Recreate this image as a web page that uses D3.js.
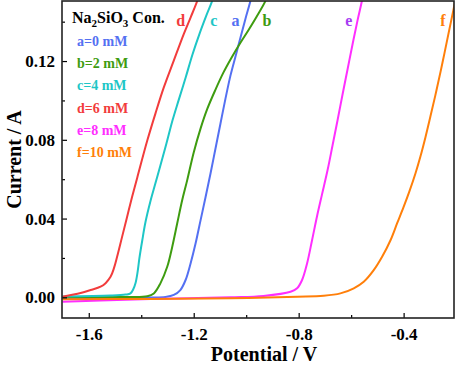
<!DOCTYPE html>
<html>
<head>
<meta charset="utf-8">
<script src="https://cdn.jsdelivr.net/npm/d3@7"></script>
<style>
    body { margin: 0; background: #fff; }
    .font { font-family: "Liberation Serif", "Times New Roman", serif; font-weight: bold; }
    .tick-label { font-size: 17px; }
    .axis-title { font-size: 20px; }
    .legend-head { font-size: 16px; }
    .legend { font-size: 14px; }
    .curve-label { font-size: 16px; }
    .line { fill: none; stroke-width: 2; stroke-linejoin: round; }
</style>
</head>
<body>
<svg id="chart" width="457" height="366"></svg>
<script>
const SVG_WIDTH = 457;
const SVG_HEIGHT = 366;
const PLOT_LEFT = 62;
const PLOT_RIGHT = 454;
const PLOT_TOP = 1;
const PLOT_BOTTOM = 318;

const X_DOMAIN = [-1.702, -0.208];
const Y_DOMAIN = [-0.0105, 0.1505];
const X_MAJOR_TICKS = [-1.6, -1.2, -0.8, -0.4];
const X_MINOR_TICKS = [-1.4, -1.0, -0.6];
const Y_MAJOR_TICKS = [0.00, 0.04, 0.08, 0.12];
const Y_MINOR_TICKS = [0.02, 0.06, 0.10, 0.14];

// polarisation curves (V, A)
var potA = [-1.70, -1.365, -1.308, -1.276, -1.251, -1.231, -1.212, -1.193, -1.174, -1.155, -1.136, -1.117, -1.098, -1.079, -1.060, -1.041, -1.022, -1.003, -0.984, -0.982];
var curA = [-0.0005, -0.0001, 0.0002, 0.0012, 0.0037, 0.0088, 0.0172, 0.0273, 0.0391, 0.0508, 0.0629, 0.0756, 0.0883, 0.1009, 0.1126, 0.1222, 0.1318, 0.1414, 0.1505, 0.1520];
var potB = [-1.70, -1.479, -1.377, -1.352, -1.327, -1.301, -1.282, -1.263, -1.244, -1.225, -1.200, -1.174, -1.148, -1.117, -1.087, -1.056, -1.022, -0.991, -0.961, -0.927, -0.925];
var curB = [0.0000, 0.0002, 0.0005, 0.0020, 0.0071, 0.0155, 0.0256, 0.0375, 0.0493, 0.0594, 0.0736, 0.0857, 0.0958, 0.1055, 0.1141, 0.1217, 0.1293, 0.1358, 0.1424, 0.1505, 0.1520];
var potC = [-1.70, -1.517, -1.460, -1.441, -1.430, -1.422, -1.414, -1.407, -1.396, -1.384, -1.365, -1.346, -1.327, -1.304, -1.281, -1.258, -1.231, -1.205, -1.178, -1.151, -1.130, -1.128];
var curC = [0.0004, 0.0009, 0.0014, 0.0020, 0.0042, 0.0071, 0.0128, 0.0199, 0.0290, 0.0381, 0.0488, 0.0579, 0.0670, 0.0781, 0.0898, 0.0999, 0.1115, 0.1232, 0.1338, 0.1434, 0.1505, 0.1520];
var potD = [-1.70, -1.631, -1.593, -1.555, -1.536, -1.517, -1.504, -1.492, -1.473, -1.454, -1.435, -1.415, -1.377, -1.346, -1.314, -1.276, -1.238, -1.212, -1.187, -1.185];
var curD = [0.0003, 0.0022, 0.0037, 0.0054, 0.0072, 0.0104, 0.0148, 0.0206, 0.0307, 0.0408, 0.0509, 0.0609, 0.0796, 0.0933, 0.1066, 0.1202, 0.1337, 0.1421, 0.1505, 0.1520];
var potE = [-1.70, -1.555, -1.365, -1.060, -0.934, -0.831, -0.806, -0.787, -0.768, -0.749, -0.730, -0.711, -0.690, -0.671, -0.652, -0.633, -0.614, -0.595, -0.576, -0.559, -0.557];
var curE = [-0.0022, -0.0016, -0.0009, 0.0000, 0.0007, 0.0028, 0.0046, 0.0088, 0.0172, 0.0290, 0.0412, 0.0523, 0.0645, 0.0771, 0.0898, 0.1029, 0.1156, 0.1283, 0.1404, 0.1505, 0.1520];
var potF = [-1.70, -1.365, -1.060, -0.806, -0.705, -0.641, -0.590, -0.552, -0.514, -0.482, -0.450, -0.425, -0.400, -0.378, -0.355, -0.336, -0.317, -0.298, -0.275, -0.252, -0.230, -0.211, -0.203];
var curF = [-0.0010, -0.0008, -0.0005, 0.0003, 0.0008, 0.0020, 0.0046, 0.0079, 0.0138, 0.0206, 0.0290, 0.0375, 0.0459, 0.0538, 0.0629, 0.0715, 0.0812, 0.0918, 0.1050, 0.1191, 0.1333, 0.1455, 0.1505];

var seriesKeys = ["a", "b", "c", "d", "e", "f"];
var seriesPot = [potA, potB, potC, potD, potE, potF];
var seriesCur = [curA, curB, curC, curD, curE, curF];
var seriesColors = ["#5470f2", "#3e9c10", "#1ec6c6", "#f23c3c", "#ff2eff", "#ff7f0a"];
var labelColors = ["#5470f2", "#3e9c10", "#1ec6c6", "#f23c3c", "#a63cf2", "#ff7f0a"];
var legendTexts = ["a=0 mM", "b=2 mM", "c=4 mM", "d=6 mM", "e=8 mM", "f=10 mM"];
// where the letter next to each curve sits (V, A)
var curveLabelPot = [-1.041, -0.921, -1.123, -1.250, -0.609, -0.250];
var curveLabelCur = [0.138, 0.138, 0.138, 0.138, 0.138, 0.138];

var svg = d3.select("#chart");

var xScale = d3.scaleLinear()
    .domain(X_DOMAIN)
    .range([PLOT_LEFT, PLOT_RIGHT]);
var yScale = d3.scaleLinear()
    .domain(Y_DOMAIN)
    .range([PLOT_BOTTOM, PLOT_TOP]);

svg.append("clipPath")
    .attr("id", "plotClip")
    .append("rect")
    .attr("x", PLOT_LEFT)
    .attr("y", PLOT_TOP)
    .attr("width", PLOT_RIGHT - PLOT_LEFT)
    .attr("height", PLOT_BOTTOM - PLOT_TOP);

var lineGroup = svg.append("g")
    .attr("clip-path", "url(#plotClip)");
var line = d3.line()
    .x(function(d) { return xScale(d[0]); })
    .y(function(d) { return yScale(d[1]); })
    .curve(d3.curveCatmullRom.alpha(0.5));
for (var i = 0; i < seriesKeys.length; i++) {
    var pts = d3.zip(seriesPot[i], seriesCur[i]);
    lineGroup.append("path")
        .datum(pts)
        .classed("line", true)
        .attr("stroke", seriesColors[i])
        .attr("d", line);
}

// axes: inward ticks, labels placed by hand like Origin does
var xAxis = d3.axisBottom(xScale)
    .tickValues(X_MAJOR_TICKS)
    .tickSizeInner(-5)
    .tickSizeOuter(0)
    .tickFormat(d3.format(".1f"));
var xAxisGroup = svg.append("g")
    .attr("transform", "translate(0," + PLOT_BOTTOM + ")")
    .call(xAxis);
xAxisGroup.selectAll(".tick text")
    .classed("font tick-label", true)
    .attr("fill", "#000")
    .attr("dy", "0.71em")
    .attr("y", 10)
    .text(function(d) { return d3.format(".1f")(d).replace("−", "-"); });
var xMinor = d3.axisBottom(xScale)
    .tickValues(X_MINOR_TICKS)
    .tickSizeInner(-3)
    .tickSizeOuter(0)
    .tickFormat("");
svg.append("g")
    .attr("transform", "translate(0," + PLOT_BOTTOM + ")")
    .call(xMinor);

var yAxis = d3.axisLeft(yScale)
    .tickValues(Y_MAJOR_TICKS)
    .tickSizeInner(-5)
    .tickSizeOuter(0)
    .tickFormat(d3.format(".2f"));
var yAxisGroup = svg.append("g")
    .attr("transform", "translate(" + PLOT_LEFT + ",0)")
    .call(yAxis);
yAxisGroup.selectAll(".tick text")
    .classed("font tick-label", true)
    .attr("fill", "#000")
    .attr("x", -7);
var yMinor = d3.axisLeft(yScale)
    .tickValues(Y_MINOR_TICKS)
    .tickSizeInner(-3)
    .tickSizeOuter(0)
    .tickFormat("");
svg.append("g")
    .attr("transform", "translate(" + PLOT_LEFT + ",0)")
    .call(yMinor);

svg.selectAll(".domain").remove();
svg.selectAll(".tick line")
    .attr("stroke", "#000")
    .attr("stroke-width", 1.2);

svg.append("rect")
    .attr("x", PLOT_LEFT)
    .attr("y", PLOT_TOP)
    .attr("width", PLOT_RIGHT - PLOT_LEFT)
    .attr("height", PLOT_BOTTOM - PLOT_TOP)
    .attr("fill", "none")
    .attr("stroke", "#222")
    .attr("stroke-width", 1.6);

svg.append("text")
    .classed("font axis-title", true)
    .attr("x", 264)
    .attr("y", 361)
    .attr("text-anchor", "middle")
    .text("Potential / V");
svg.append("text")
    .classed("font axis-title", true)
    .attr("transform", "translate(21," + (PLOT_TOP + PLOT_BOTTOM) / 2 + ") rotate(-90)")
    .attr("text-anchor", "middle")
    .text("Current / A");

// legend
var legendHead = svg.append("text")
    .classed("font legend-head", true)
    .attr("x", 72)
    .attr("y", 23);
legendHead.append("tspan").text("Na");
legendHead.append("tspan").attr("dy", 4).attr("font-size", "11px").text("2");
legendHead.append("tspan").attr("dy", -4).text("SiO");
legendHead.append("tspan").attr("dy", 4).attr("font-size", "11px").text("3");
legendHead.append("tspan").attr("dy", -4).text(" Con.");

svg.selectAll("legend")
    .data(legendTexts)
    .enter()
    .append("text")
    .classed("font legend", true)
    .attr("x", 77)
    .attr("y", function(d, i) { return 46 + i * 22.2; })
    .attr("fill", function(d, i) { return seriesColors[i]; })
    .text(function(d) { return d; });

svg.selectAll("curveLabel")
    .data(seriesKeys)
    .enter()
    .append("text")
    .classed("font curve-label", true)
    .attr("text-anchor", "middle")
    .attr("x", function(d, i) { return xScale(curveLabelPot[i]); })
    .attr("y", function(d, i) { return yScale(curveLabelCur[i]); })
    .attr("fill", function(d, i) { return labelColors[i]; })
    .text(function(d) { return d; });
</script>
</body>
</html>
